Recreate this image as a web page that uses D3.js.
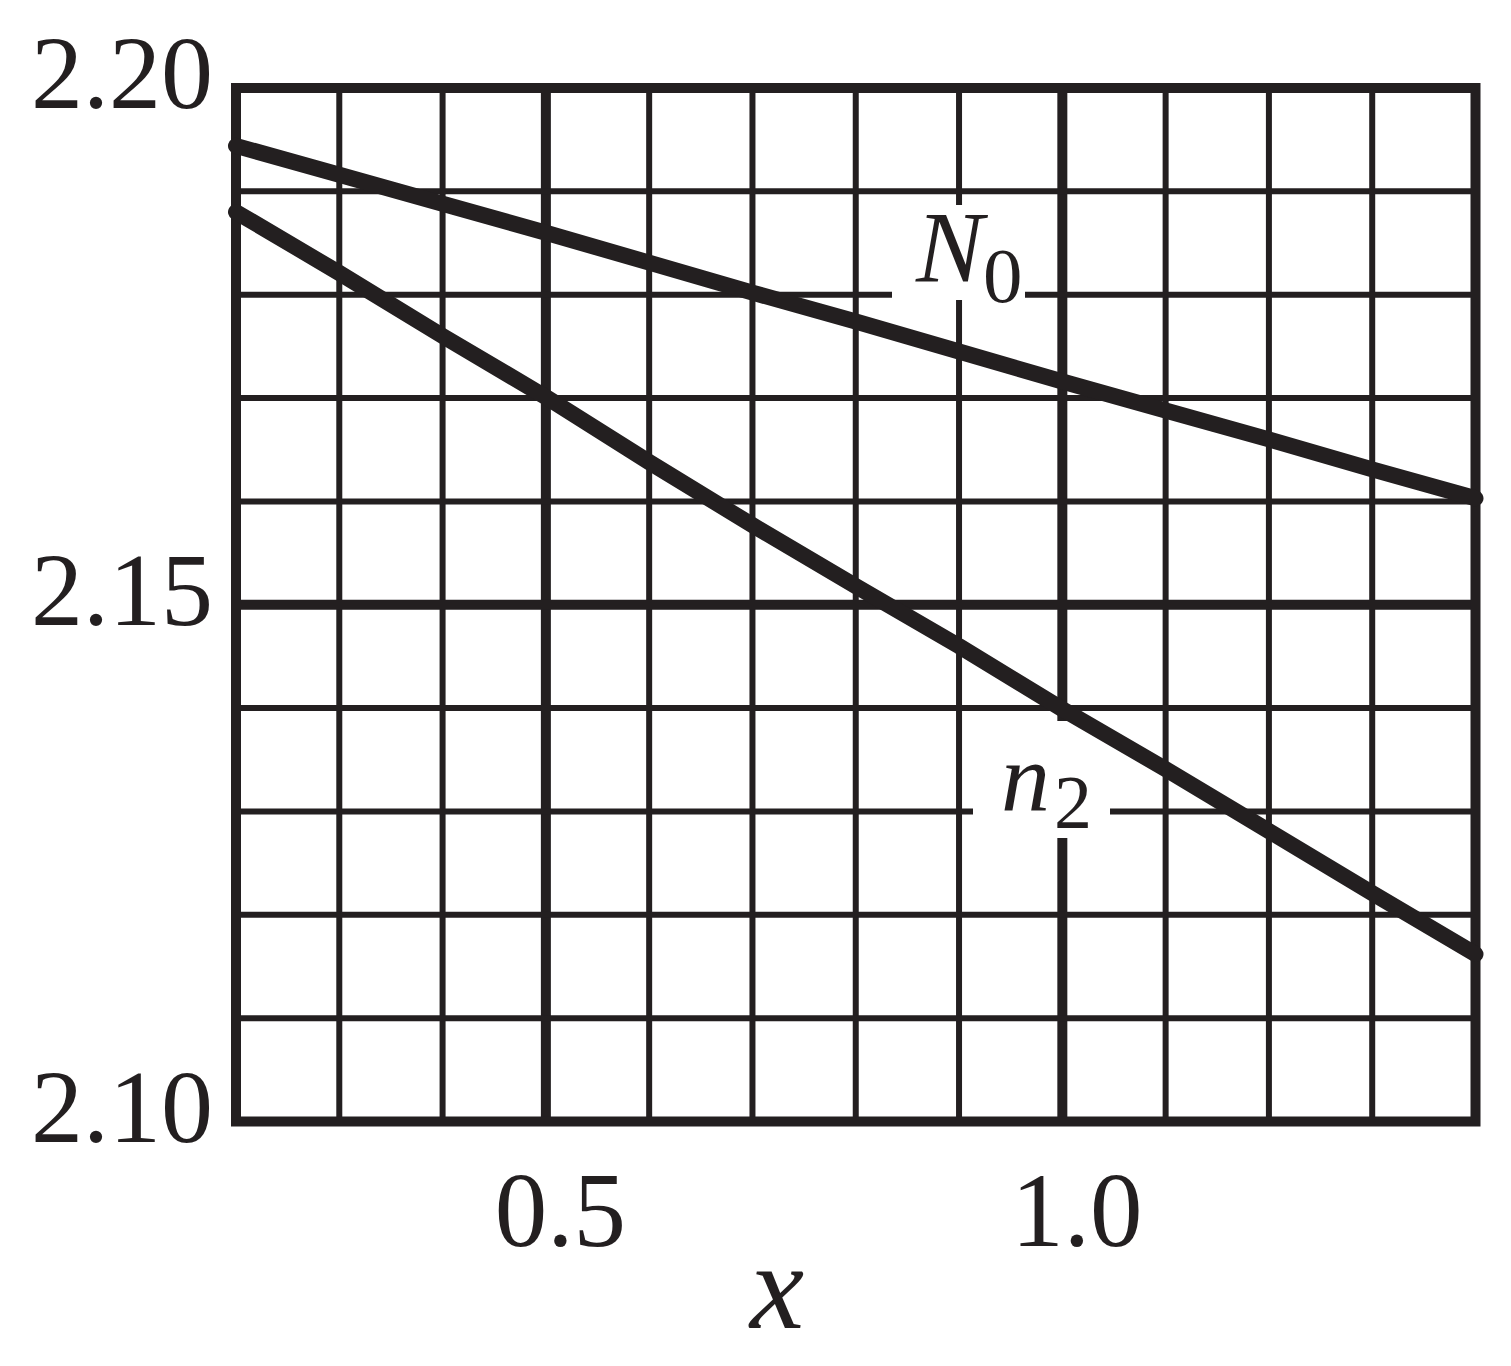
<!DOCTYPE html>
<html>
<head>
<meta charset="utf-8">
<script src="https://cdn.jsdelivr.net/npm/d3@7"></script>
<style>
  body { margin: 0; background: #fff; }
  svg { display: block; }
  text { font-family: "Liberation Serif", "Times New Roman", serif; fill: #231f20; }
</style>
</head>
<body>
<svg id="chart"></svg>
<script>
var W = 1511, H = 1366;
var ink = '#231f20';

// composition x, read at every 0.1
var xs = [0.2, 0.3, 0.4, 0.5, 0.6, 0.7, 0.8, 0.9, 1.0, 1.1, 1.2, 1.3, 1.4];
var N0 = [2.1944, 2.1916, 2.1888, 2.1860, 2.1831, 2.1802, 2.1774, 2.1745, 2.1716, 2.1688, 2.1660, 2.1631, 2.1603];
var n2 = [2.1880, 2.1821, 2.1760, 2.1701, 2.1638, 2.1577, 2.1518, 2.1460, 2.1399, 2.1341, 2.1281, 2.1221, 2.1162];
var yTicks = [2.10, 2.15, 2.20];
var xTicks = [0.5, 1.0];
var thickX = [0.5, 1.0];
var thickY = [2.15];

var svg = d3.select('#chart').attr('width', W).attr('height', H);

var x = d3.scaleLinear().domain([0.2, 1.4]).range([236, 1475.5]);
var y = d3.scaleLinear().domain([2.10, 2.20]).range([1121.5, 88]);

function isIn(arr, v) {
  return arr.some(function (a) { return Math.abs(a - v) < 1e-6; });
}

// grid
svg.append('g').selectAll('line')
  .data(x.ticks(12))
  .enter()
  .append('line')
  .attr('x1', function (d) { return x(d); })
  .attr('x2', function (d) { return x(d); })
  .attr('y1', y(2.20))
  .attr('y2', y(2.10))
  .attr('stroke', ink)
  .attr('stroke-width', function (d) { return isIn(thickX, d) ? 10 : 6; });

svg.append('g').selectAll('line')
  .data(y.ticks(10))
  .enter()
  .append('line')
  .attr('x1', x(0.2))
  .attr('x2', x(1.4))
  .attr('y1', function (d) { return y(d); })
  .attr('y2', function (d) { return y(d); })
  .attr('stroke', ink)
  .attr('stroke-width', function (d) { return isIn(thickY, d) ? 10 : 6; });

// white patches behind the curve labels
svg.append('rect').attr('x', 892).attr('y', 205).attr('width', 133).attr('height', 95).attr('fill', '#fff');
svg.append('rect').attr('x', 973).attr('y', 721).attr('width', 137).attr('height', 117).attr('fill', '#fff');

// frame
svg.append('rect')
  .attr('x', x(0.2)).attr('y', y(2.20))
  .attr('width', x(1.4) - x(0.2)).attr('height', y(2.10) - y(2.20))
  .attr('fill', 'none')
  .attr('stroke', ink)
  .attr('stroke-width', 10);

// curves
var line = d3.line()
  .x(function (d) { return x(d[0]); })
  .y(function (d) { return y(d[1]); });

[N0, n2].forEach(function (s) {
  svg.append('path')
    .datum(xs.map(function (v, i) { return [v, s[i]]; }))
    .attr('d', line)
    .attr('fill', 'none')
    .attr('stroke', ink)
    .attr('stroke-width', 16)
    .attr('stroke-linecap', 'round')
    .attr('stroke-linejoin', 'round');
});

// axes (labels only)
var yAxis = svg.append('g')
  .attr('transform', 'translate(' + x(0.2) + ',0)')
  .call(d3.axisLeft(y).tickValues(yTicks).tickSize(0).tickPadding(23).tickFormat(d3.format('.2f')));
yAxis.select('.domain').remove();
yAxis.selectAll('text')
  .attr('dy', '0.19em')
  .style('font-family', '"Liberation Serif", "Times New Roman", serif')
  .style('font-size', '104px')
  .attr('fill', ink);

var xAxis = svg.append('g')
  .attr('transform', 'translate(0,' + y(2.10) + ')')
  .call(d3.axisBottom(x).tickValues(xTicks).tickSize(0).tickPadding(50).tickFormat(d3.format('.1f')));
xAxis.select('.domain').remove();
xAxis.selectAll('text')
  .attr('dx', 14)
  .style('font-family', '"Liberation Serif", "Times New Roman", serif')
  .style('font-size', '105px')
  .attr('fill', ink);

svg.append('text')
  .attr('x', 777).attr('y', 1328)
  .attr('text-anchor', 'middle')
  .style('font-style', 'italic')
  .style('font-size', '122px')
  .text('x');

// curve labels
var lab1 = svg.append('text').attr('x', 916).attr('y', 282);
lab1.append('tspan').style('font-style', 'italic').style('font-size', '101px').text('N');
lab1.append('tspan').attr('x', 983).attr('y', 302).style('font-size', '79px').text('0');

var lab2 = svg.append('text').attr('x', 1001).attr('y', 810);
lab2.append('tspan').style('font-style', 'italic').style('font-size', '98px').text('n');
lab2.append('tspan').attr('x', 1054).attr('y', 828).style('font-size', '76px').text('2');
</script>
</body>
</html>
